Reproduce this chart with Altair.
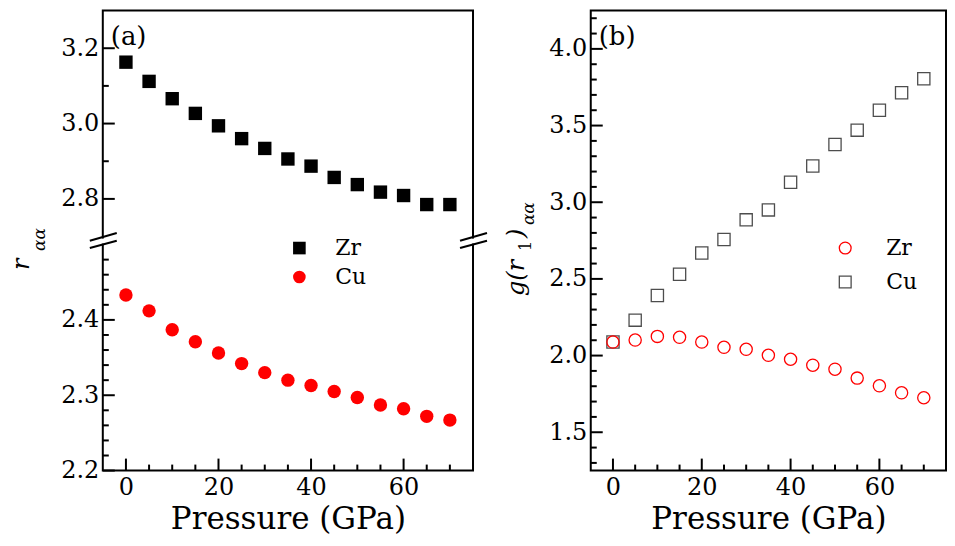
import altair as alt
import pandas as pd

# ---------------- data ----------------
pressure = [0, 5, 10, 15, 20, 25, 30, 35, 40, 45, 50, 55, 60, 65, 70]
zr_r = [3.163, 3.112, 3.066, 3.027, 2.994, 2.960, 2.934, 2.906, 2.887, 2.857, 2.838, 2.818, 2.809, 2.785, 2.785]
cu_r = [2.433, 2.412, 2.387, 2.371, 2.356, 2.342, 2.330, 2.320, 2.313, 2.305, 2.297, 2.287, 2.282, 2.272, 2.267]
zr_g = [2.088, 2.101, 2.125, 2.119, 2.088, 2.054, 2.041, 2.002, 1.976, 1.937, 1.911, 1.853, 1.803, 1.757, 1.725]
cu_g = [2.088, 2.231, 2.392, 2.530, 2.669, 2.757, 2.885, 2.950, 3.130, 3.236, 3.377, 3.470, 3.600, 3.714, 3.805]
elements = ["Zr", "Cu"]

x_major = [0, 20, 40, 60]
x_minor = [5, 10, 15, 25, 30, 35, 45, 50, 55, 65, 70]
a_major = [2.2, 2.3, 2.4, 2.8, 3.0, 3.2]
a_minor = [2.22, 2.24, 2.26, 2.28, 2.32, 2.34, 2.36, 2.38, 2.42, 2.44, 2.46, 2.48, 2.9, 3.1]
b_major = [1.5, 2.0, 2.5, 3.0, 3.5, 4.0]
b_minor = [1.3, 1.4, 1.6, 1.7, 1.8, 1.9, 2.1, 2.2, 2.3, 2.4, 2.6, 2.7, 2.8, 2.9,
           3.1, 3.2, 3.3, 3.4, 3.6, 3.7, 3.8, 3.9, 4.1, 4.2]

# ---------------- layout / style ----------------
FONT = "DejaVu Serif"
WA, WB, H = 371, 356, 461
GAP = 0.0106          # axis-break gap (in lower-segment units)
LOW_TOP, HIGH_BOT = 2.5, 2.7


def brk(v):
    """Map a value of panel (a) onto the broken axis coordinate."""
    return v if v <= LOW_TOP else LOW_TOP + GAP + (v - HIGH_BOT) / 2.0


A_TOP = brk(3.3)
one = pd.DataFrame({"k": [0]})

xscale = alt.Scale(domain=[-5, 75], nice=False, zero=False)

X_AXIS = alt.Axis(values=x_major, domain=False, ticks=False, tickSize=0, grid=False,
                  labelFont=FONT, labelFontSize=24, labelPadding=5, labelColor="black",
                  title="Pressure (GPa)", titleFont=FONT, titleFontSize=31,
                  titleFontWeight="normal", titleColor="black", titlePadding=5, format="d")

label_expr = (f"datum.value <= {LOW_TOP + 0.005} ? format(datum.value, '.1f') : "
              f"format({HIGH_BOT} + (datum.value - {LOW_TOP + GAP}) * 2, '.1f')")
Y_AXIS_A = alt.Axis(values=[brk(v) for v in a_major], labelExpr=label_expr,
                    domain=False, ticks=False, tickSize=0, grid=False,
                    labelFont=FONT, labelFontSize=24, labelPadding=4,
                    labelColor="black", title=None)
Y_AXIS_B = alt.Axis(values=b_major, format=".1f", domain=False, ticks=False, tickSize=0,
                    grid=False, labelFont=FONT, labelFontSize=24, labelPadding=4,
                    labelColor="black", title=None)


def tick_layers(ymaj, ymin, yscale, yaxis):
    layers = []
    for vals, ln in ((ymaj, 12), (ymin, 6)):
        layers.append(
            alt.Chart(pd.DataFrame({"v": vals})).mark_rule(color="black", strokeWidth=2).encode(
                y=alt.Y("v:Q", scale=yscale, axis=yaxis), x=alt.value(0), x2=alt.value(ln)))
    for vals, ln in ((x_major, 12), (x_minor, 6)):
        layers.append(
            alt.Chart(pd.DataFrame({"Pressure": vals})).mark_rule(color="black", strokeWidth=2).encode(
                x=alt.X("Pressure:Q", scale=xscale, axis=X_AXIS), y=alt.value(H), y2=alt.value(H - ln)))
    return layers


def label(txt, x, y, size, italic=False, angle=0):
    kw = dict(align="left", baseline="alphabetic", font=FONT, fontSize=size, color="black")
    if italic:
        kw["fontStyle"] = "italic"
    if angle:
        kw["angle"] = angle
    return alt.Chart(pd.DataFrame({"t": [txt]})).mark_text(**kw).encode(
        text="t:N", x=alt.value(x), y=alt.value(y))


def seg(x1, y1, x2, y2, color="black", width=2):
    return alt.Chart(one).mark_rule(color=color, strokeWidth=width).encode(
        x=alt.value(x1), y=alt.value(y1), x2=alt.value(x2), y2=alt.value(y2))


# ---------------- panel (a) ----------------
df_a = pd.DataFrame({
    "Pressure": pressure * 2,
    "v": [brk(v) for v in zr_r] + [brk(v) for v in cu_r],
    "element": ["Zr"] * len(pressure) + ["Cu"] * len(pressure),
})
yscale_a = alt.Scale(domain=[2.2, A_TOP], nice=False, zero=False)
legend_a = alt.Legend(orient="none", legendX=186, legendY=227, title=None, padding=0,
                      labelFont=FONT, labelFontSize=22, labelColor="black", labelOffset=25,
                      rowPadding=7, symbolSize=160, symbolStrokeWidth=0)

pts_a = alt.Chart(df_a).mark_point(filled=True, opacity=1, size=180).encode(
    x=alt.X("Pressure:Q", scale=xscale, axis=X_AXIS),
    y=alt.Y("v:Q", scale=yscale_a, axis=Y_AXIS_A),
    color=alt.Color("element:N", scale=alt.Scale(domain=elements, range=["black", "#ff0000"]),
                    legend=legend_a),
    shape=alt.Shape("element:N", scale=alt.Scale(domain=elements, range=["square", "circle"]),
                    legend=legend_a),
)

brk_layers = [
    seg(0, 228.5, 0, 233.5, color="white", width=5),
    seg(WA, 228.5, WA, 233.5, color="white", width=5),
    seg(-13, 230.7, 14, 223.0), seg(-13, 238.0, 14, 230.7),
    seg(WA - 13, 230.7, WA + 14, 223.0), seg(WA - 13, 238.0, WA + 14, 230.7),
]

panel_a = alt.layer(
    pts_a,
    *tick_layers([brk(v) for v in a_major], [brk(v) for v in a_minor], yscale_a, Y_AXIS_A),
    *brk_layers,
    label("(a)", 8, 35, 26),
    label("r", -74, 260, 24, italic=True, angle=270),
    label("αα", -58, 241, 17, italic=True, angle=270),
    seg(-93, 0, -93, 1, color="white", width=1),
).properties(width=WA, height=H)

# ---------------- panel (b) ----------------
df_b = pd.DataFrame({
    "Pressure": pressure * 2,
    "g": cu_g + zr_g,
    "element": ["Cu"] * len(pressure) + ["Zr"] * len(pressure),
})
yscale_b = alt.Scale(domain=[1.25, 4.25], nice=False, zero=False)
legend_b = alt.Legend(orient="none", legendX=244, legendY=227, title=None, padding=0,
                      labelFont=FONT, labelFontSize=22, labelColor="black", labelOffset=30,
                      rowPadding=12, symbolSize=140, symbolStrokeWidth=1.3)

pts_b = alt.Chart(df_b).mark_point(filled=False, opacity=1, size=150, strokeWidth=1.3).encode(
    x=alt.X("Pressure:Q", scale=xscale, axis=X_AXIS),
    y=alt.Y("g:Q", scale=yscale_b, axis=Y_AXIS_B),
    color=alt.Color("element:N", scale=alt.Scale(domain=elements, range=["#ff0000", "#4d4d4d"]),
                    legend=legend_b),
    shape=alt.Shape("element:N", scale=alt.Scale(domain=elements, range=["circle", "square"]),
                    legend=legend_b),
)

panel_b = alt.layer(
    pts_b,
    *tick_layers(b_major, b_minor, yscale_b, Y_AXIS_B),
    label("(b)", 8, 35, 26),
    label("g(r", -67, 286, 24, italic=True, angle=270),
    label("1", -60, 241, 16, angle=270),
    label(")", -67, 228, 24, italic=True, angle=270),
    label("αα", -57, 215, 17, italic=True, angle=270),
).properties(width=WB, height=H)

chart = alt.hconcat(panel_a, panel_b, spacing=118, bounds="flush").resolve_scale(
    color="independent", shape="independent", x="independent", y="independent"
).properties(padding=0).configure_view(stroke="black", strokeWidth=2)

chart.save("out.html", embed_options={"renderer": "svg", "actions": False})
